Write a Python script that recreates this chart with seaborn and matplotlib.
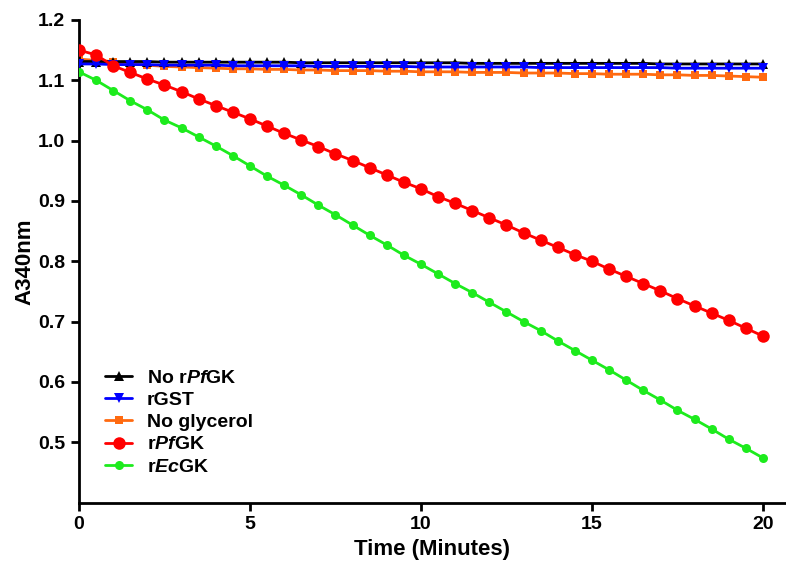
import matplotlib
matplotlib.use("Agg")
import matplotlib.pyplot as plt
import seaborn as sns
import pandas as pd

time = [0, 0.5, 1, 1.5, 2, 2.5, 3, 3.5, 4, 4.5, 5, 5.5, 6, 6.5, 7, 7.5, 8, 8.5, 9, 9.5,
        10, 10.5, 11, 11.5, 12, 12.5, 13, 13.5, 14, 14.5, 15, 15.5, 16, 16.5, 17, 17.5,
        18, 18.5, 19, 19.5, 20]

no_rpfgk = [1.131, 1.131, 1.131, 1.131, 1.131, 1.130, 1.130, 1.130, 1.130, 1.130, 1.130,
            1.130, 1.130, 1.129, 1.129, 1.129, 1.129, 1.129, 1.129, 1.129, 1.129, 1.129,
            1.129, 1.128, 1.128, 1.128, 1.128, 1.128, 1.128, 1.128, 1.128, 1.128, 1.128,
            1.128, 1.127, 1.127, 1.127, 1.127, 1.127, 1.127, 1.127]

rgst = [1.127, 1.127, 1.126, 1.126, 1.126, 1.125, 1.125, 1.125, 1.125, 1.124, 1.124,
        1.124, 1.124, 1.124, 1.123, 1.123, 1.123, 1.123, 1.123, 1.123, 1.122, 1.122,
        1.122, 1.122, 1.122, 1.122, 1.122, 1.121, 1.121, 1.121, 1.121, 1.121, 1.121,
        1.121, 1.121, 1.120, 1.120, 1.120, 1.120, 1.120, 1.120]

no_glycerol = [1.135, 1.133, 1.131, 1.127, 1.125, 1.123, 1.122, 1.121, 1.120, 1.119,
               1.119, 1.118, 1.118, 1.117, 1.117, 1.116, 1.116, 1.116, 1.115, 1.115,
               1.114, 1.114, 1.114, 1.113, 1.113, 1.113, 1.112, 1.112, 1.112, 1.111,
               1.111, 1.110, 1.110, 1.110, 1.109, 1.109, 1.108, 1.108, 1.107, 1.106, 1.105]

rpfgk = [1.150, 1.142, 1.124, 1.113, 1.102, 1.092, 1.081, 1.069, 1.058, 1.047, 1.036,
         1.024, 1.012, 1.001, 0.990, 0.978, 0.967, 0.955, 0.943, 0.931, 0.920, 0.907,
         0.896, 0.884, 0.872, 0.860, 0.847, 0.835, 0.823, 0.811, 0.800, 0.787, 0.775,
         0.763, 0.751, 0.738, 0.726, 0.714, 0.702, 0.689, 0.676]

recgk = [1.114, 1.100, 1.083, 1.066, 1.051, 1.034, 1.021, 1.006, 0.991, 0.975, 0.958,
         0.941, 0.926, 0.910, 0.893, 0.877, 0.860, 0.843, 0.827, 0.810, 0.795, 0.779,
         0.763, 0.748, 0.732, 0.716, 0.700, 0.685, 0.668, 0.652, 0.636, 0.620, 0.603,
         0.586, 0.570, 0.553, 0.538, 0.522, 0.505, 0.490, 0.474]

labels = [r"No r$\it{Pf}$GK", "rGST", "No glycerol", r"r$\it{Pf}$GK", r"r$\it{Ec}$GK"]
yticks = [0.5, 0.6, 0.7, 0.8, 0.9, 1.0, 1.1, 1.2]
xticks = [0, 5, 10, 15, 20]

sns.set_theme(style="ticks")
plt.rcParams["font.family"] = ["Liberation Sans", "DejaVu Sans"]
plt.rcParams["font.weight"] = "bold"
plt.rcParams["mathtext.fontset"] = "custom"
plt.rcParams["mathtext.rm"] = "Liberation Sans:bold"
plt.rcParams["mathtext.it"] = "Liberation Sans:italic:bold"
plt.rcParams["mathtext.bf"] = "Liberation Sans:bold"
for key in ["text.color", "axes.labelcolor", "xtick.color", "ytick.color",
            "xtick.labelcolor", "ytick.labelcolor"]:
    plt.rcParams[key] = "black"

fig = plt.figure(figsize=(7.86, 5.66), dpi=100)
ax = fig.add_axes([0.1005, 0.112, 0.8985, 0.8528])

series = [no_rpfgk, rgst, no_glycerol, rpfgk, recgk]
colors = ["#000000", "#0000FF", "#FF6A10", "#FF0000", "#1DEB1D"]
markers = ["^", "v", "s", "o", "o"]
msizes = [6.5, 6.5, 6, 9, 6.5]
zorders = [3, 4, 2, 6, 5]

for vals, lab, c, m, ms, z in zip(series, labels, colors, markers, msizes, zorders):
    df = pd.DataFrame({"Time": time, "A340": vals})
    sns.lineplot(data=df, x="Time", y="A340", ax=ax, color=c, marker=m,
                 markersize=ms, markeredgewidth=0, linewidth=2, label=lab,
                 zorder=z)

ax.set_xlim(0, 20.65)
ax.set_ylim(0.4, 1.2)
ax.set_xticks(xticks)
ax.set_yticks(yticks)
ax.set_yticklabels([f"{v:.1f}" for v in yticks])
ax.set_xticklabels([str(v) for v in xticks])
for s in ["top", "right"]:
    ax.spines[s].set_visible(False)
for s in ["left", "bottom"]:
    ax.spines[s].set_linewidth(2)
    ax.spines[s].set_color("black")
ax.tick_params(axis="both", direction="out", length=6, width=2, color="black",
               labelcolor="black", labelsize=14, pad=4)
for t in ax.get_xticklabels() + ax.get_yticklabels():
    t.set_fontweight("bold")

ax.set_xlabel("Time (Minutes)", fontsize=16, fontweight="bold", labelpad=4, color="black")
ax.set_ylabel("A340nm", fontsize=16, fontweight="bold", labelpad=2, color="black")

leg = ax.legend(loc="upper left", bbox_to_anchor=(0.037, 0.277), frameon=False,
                fontsize=14, handlelength=1.4, handletextpad=0.75,
                labelspacing=0.24, borderaxespad=0, borderpad=0)
for t in leg.get_texts():
    t.set_fontweight("bold")
    t.set_color("black")

fig.savefig("out.png", dpi=100)
